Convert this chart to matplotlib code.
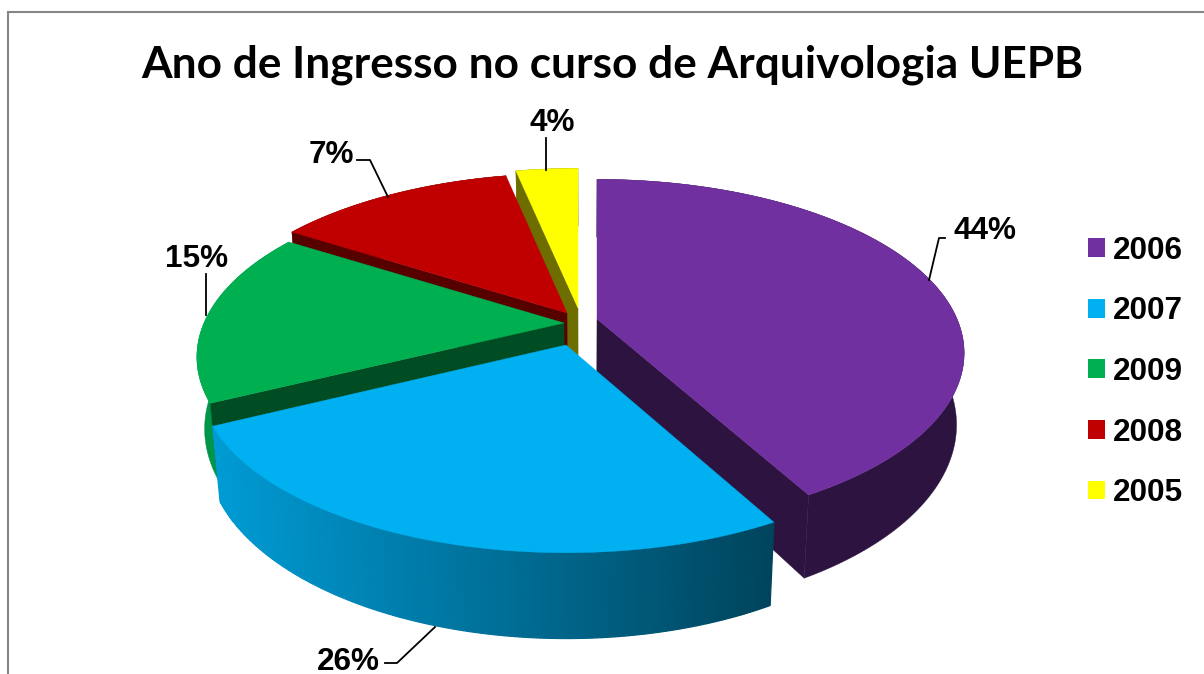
import numpy as np
import matplotlib
matplotlib.use("Agg")
import matplotlib.pyplot as plt
from matplotlib.patches import Polygon, Patch
from matplotlib.lines import Line2D

# ---- data ----
title = "Ano de Ingresso no curso de Arquivologia UEPB"
years = ["2006", "2007", "2009", "2008", "2005"]
percent_labels = ["44%", "26%", "15%", "7%", "4%"]
# share of the circle each slice occupies as drawn in the picture
drawn_shares = [41.9, 26.0, 16.1, 12.9, 3.1]

# ---- styles ----
top_colors = ["#7030A0", "#00B0F0", "#00B050", "#C00000", "#FFFF00"]
face_colors = ["#2D1440", None, "#004D23", "#560000", "#6E6E00"]
wall_colors = ["#2D1440", None, "#00964A", "#560000", "#6E6E00"]
blue_wall_left = np.array([0, 155, 212]) / 255
blue_wall_right = np.array([0, 68, 92]) / 255

# ---- 3-D projection layout (pixels) ----
W, H = 1204, 674
HALF_W, HALF_H, PERSP = 360.0, 167.0, 0.196
DEPTH, BOTTOM_SCALE, BOTTOM_CX = 69.0, 0.98, 585.0
apexes = [(597, 319), (566, 345), (564, 323), (567, 313), (578, 308)]
# small angular nudges of each slice's edges caused by the explosion (degrees)
edge_nudge = [(0, 0), (0.6, -0.8), (-0.5, 0), (0, -0.5), (-0.7, 0)]
# which radial edge of each slice shows its cut face
face_edge = ["end", None, "start", "start", "start"]
paint_order = [4, 3, 2, 0, 1]


def project(theta_deg, apex, radius=1.0):
    t = np.radians(theta_deg)
    u, v = radius * np.sin(t), radius * np.cos(t)
    s = 1.0 / (1.0 + PERSP * v)
    return apex[0] + HALF_W * u * s, apex[1] - HALF_H * v * s, s


def lower(x, y, s):
    return BOTTOM_CX + (x - BOTTOM_CX) * BOTTOM_SCALE, y + DEPTH * s


fig = plt.figure(figsize=(W / 100, H / 100), dpi=100, facecolor="white")
ax = fig.add_axes([0, 0, 1, 1])
ax.set_xlim(0, W)
ax.set_ylim(H, 0)
ax.axis("off")

# chart frame (top and left are the only sides visible)
ax.add_line(Line2D([8, 8, W], [H, 12, 12], color="#868686", lw=1.5,
                   solid_joinstyle="miter"))

edges = np.cumsum([0] + drawn_shares) / sum(drawn_shares) * 360.0

for i in paint_order:
    th = np.linspace(edges[i] + edge_nudge[i][0],
                     edges[i + 1] + edge_nudge[i][1], 200)
    apex = apexes[i]
    x, y, s = project(th, apex)
    bx, by = lower(x, y, s)

    # outer wall
    if wall_colors[i] is not None:
        ax.add_patch(Polygon(np.c_[np.r_[x, bx[::-1]], np.r_[y, by[::-1]]],
                             closed=True, fc=wall_colors[i],
                             ec=wall_colors[i], lw=0.3))
    else:
        xmin, xmax = x.min(), x.max()
        for j in range(len(th) - 1):
            f = ((x[j] + x[j + 1]) / 2 - xmin) / (xmax - xmin)
            c = blue_wall_left + (blue_wall_right - blue_wall_left) * f
            ax.add_patch(Polygon([(x[j], y[j]), (x[j + 1], y[j + 1]),
                                  (bx[j + 1], by[j + 1]), (bx[j], by[j])],
                                 closed=True, fc=c, ec=c, lw=0.9))

    # radial cut face
    if face_edge[i] is not None:
        k = 0 if face_edge[i] == "start" else -1
        ax0, ay0 = lower(apex[0], apex[1], 1.0)
        ax.add_patch(Polygon([apex, (x[k], y[k]), (bx[k], by[k]), (ax0, ay0)],
                             closed=True, fc=face_colors[i],
                             ec=face_colors[i], lw=0.3))

    # top surface
    ax.add_patch(Polygon(np.c_[np.r_[apex[0], x], np.r_[apex[1], y]],
                         closed=True, fc=top_colors[i], ec=top_colors[i],
                         lw=0.3))

# percentage labels with leader lines
label_pos = [(985, 231), (348, 662), (197, 259), (331, 155), (552, 123)]
leaders = [
    ([945, 939, 929], [238, 238, 280]),
    ([385, 397, 435], [663, 663, 627]),
    ([206, 206], [274, 315]),
    ([357, 370, 388], [160, 160, 197]),
    ([546, 546], [138, 170]),
]
for txt, (lx, ly), (xs, ys) in zip(percent_labels, label_pos, leaders):
    ax.add_line(Line2D(xs, ys, color="black", lw=1.3))
    ax.text(lx, ly, txt, ha="center", va="center", fontsize=22.7,
            fontweight="bold", family="Liberation Sans", color="black")

ax.text(612.5, 65, title, ha="center", va="center", fontsize=31.8,
        fontweight="bold", family="Lato", color="black")

handles = [Patch(fc=c, ec="none", label=y) for c, y in zip(top_colors, years)]
ax.legend(handles=handles, loc="center left",
          bbox_to_anchor=(1088 / W, 1 - 372 / H),
          frameon=False, borderpad=0, borderaxespad=0,
          handlelength=0.54, handleheight=0.54, handletextpad=0.25,
          labelspacing=0.97,
          prop={"family": "Liberation Sans", "weight": "bold", "size": 22.7})

fig.savefig("out.png", dpi=100, facecolor="white")
